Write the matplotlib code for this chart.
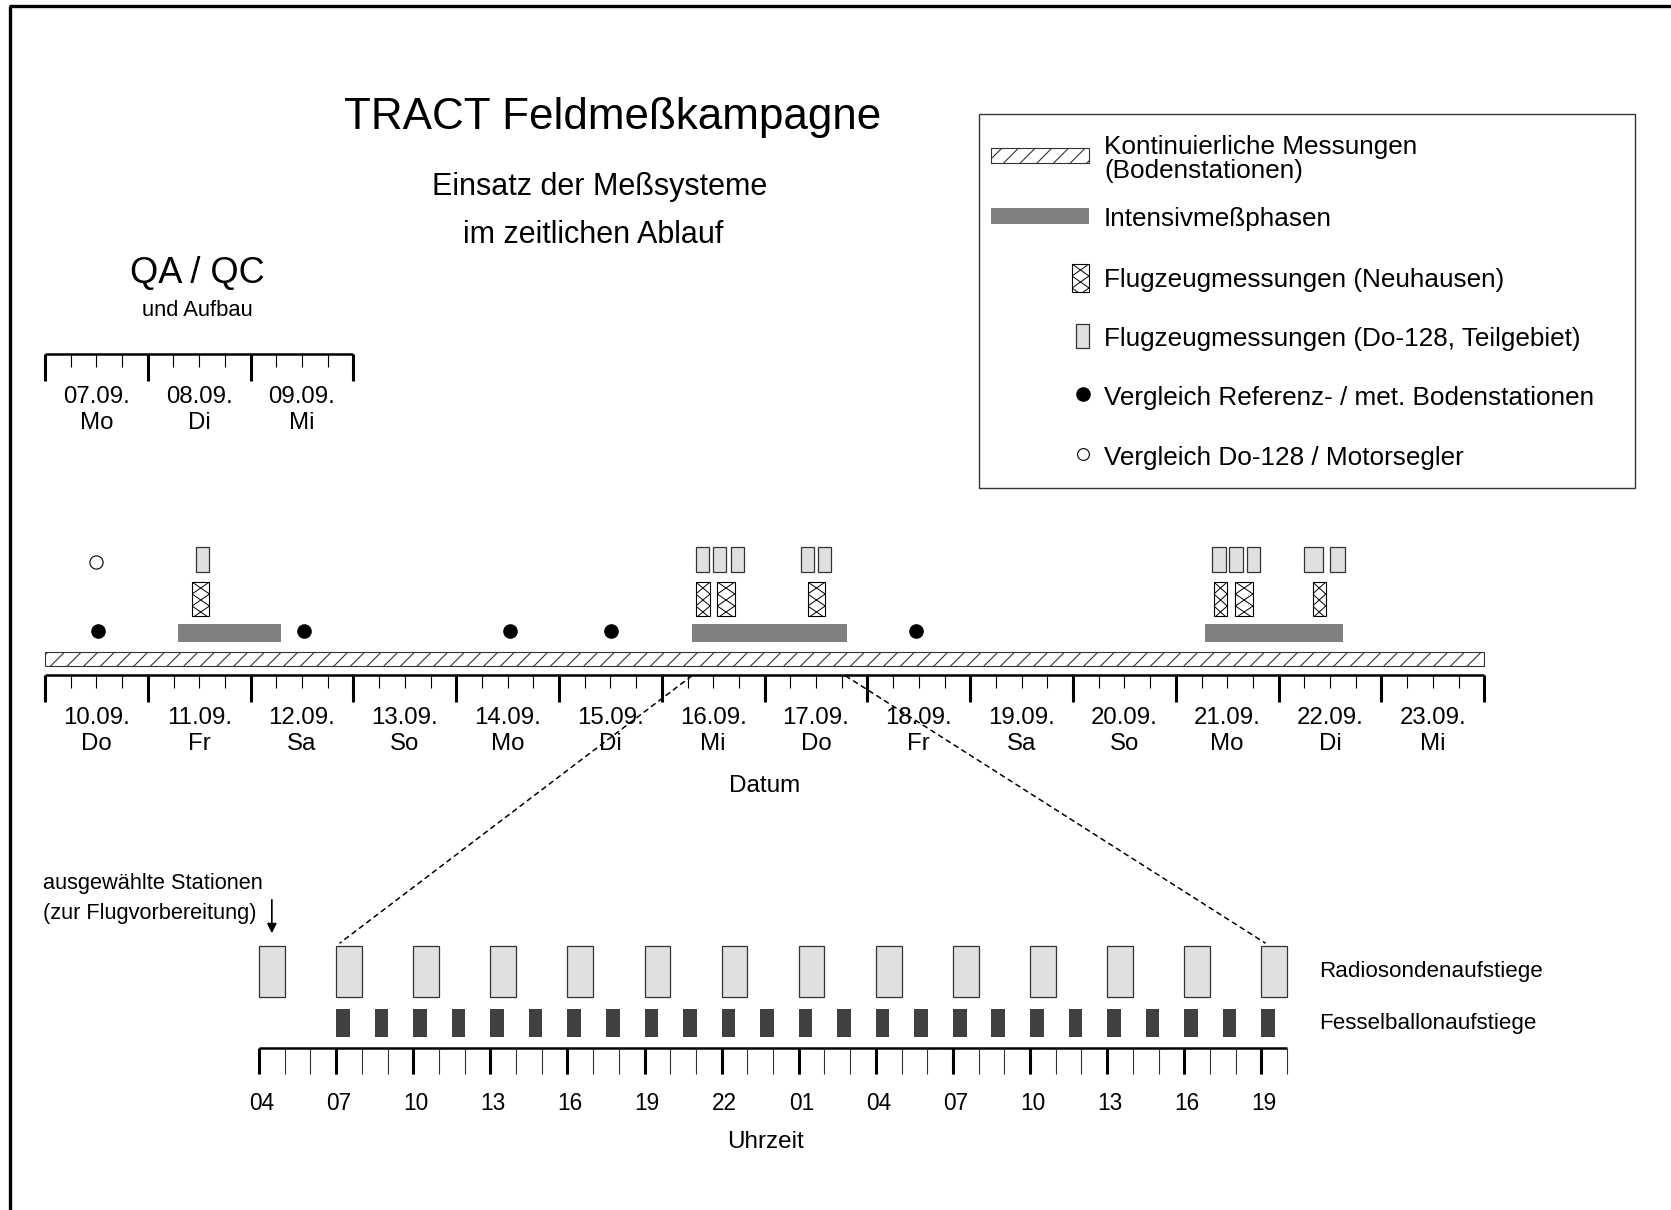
import numpy as np
import matplotlib
matplotlib.use("Agg")
import matplotlib.pyplot as plt
from matplotlib.patches import Rectangle, ConnectionPatch

plt.rcParams['font.family'] = ['Liberation Sans', 'DejaVu Sans']
plt.rcParams['hatch.linewidth'] = 0.8

# ---- data -------------------------------------------------------------
qa_dates = ['07.09.', '08.09.', '09.09.']
qa_weekdays = ['Mo', 'Di', 'Mi']

dates = ['10.09.', '11.09.', '12.09.', '13.09.', '14.09.', '15.09.', '16.09.',
         '17.09.', '18.09.', '19.09.', '20.09.', '21.09.', '22.09.', '23.09.']
weekdays = ['Do', 'Fr', 'Sa', 'So', 'Mo', 'Di', 'Mi',
            'Do', 'Fr', 'Sa', 'So', 'Mo', 'Di', 'Mi']

# days counted from 10.09. 00:00
continuous = [0.0, 14.0]
intensive_start = [1.29, 6.29, 11.28]
intensive_end = [2.30, 7.80, 12.63]
neuhausen_start = [1.43, 6.33, 6.54, 7.42, 11.37, 11.58, 12.33]
neuhausen_end = [1.60, 6.47, 6.71, 7.59, 11.50, 11.75, 12.46]
do128_start = [1.47, 6.33, 6.50, 6.67, 7.35, 7.52, 11.35, 11.52, 11.69, 12.25, 12.50]
do128_end = [1.60, 6.46, 6.62, 6.80, 7.48, 7.65, 11.49, 11.65, 11.82, 12.43, 12.65]
ref_compare = [0.52, 2.52, 4.52, 5.51, 8.47]
do128_compare = [0.50]

# hours counted from 16.09. 04:00
hour_labels = ['04', '07', '10', '13', '16', '19', '22',
               '01', '04', '07', '10', '13', '16', '19']
hours_total = 40
radiosonde = [0, 3, 6, 9, 12, 15, 18, 21, 24, 27, 30, 33, 36, 39]
radiosonde_len = 1.0
ballon = [3, 4.5, 6, 7.5, 9, 10.5, 12, 13.5, 15, 16.5, 18, 19.5, 21, 22.5,
          24, 25.5, 27, 28.5, 30, 31.5, 33, 34.5, 36, 37.5, 39]
ballon_len = 0.53
zoom_days = [6.29, 7.79]
zoom_hours = [3, 39]

legend_labels = ['Kontinuierliche Messungen\n(Bodenstationen)', 'Intensivmeßphasen',
                 'Flugzeugmessungen (Neuhausen)', 'Flugzeugmessungen (Do-128, Teilgebiet)',
                 'Vergleich Referenz- / met. Bodenstationen', 'Vergleich Do-128 / Motorsegler']

# ---- layout -----------------------------------------------------------
W, H = 1671, 1210
DAY_PX = 102.8
HOUR_PX = 25.7
LIGHT = '#e0e0e0'
MID = '#808080'
DARK = '#404040'

fig = plt.figure(figsize=(W / 100, H / 100), dpi=100)
bg = fig.add_axes([0, 0, 1, 1])
bg.set_xlim(0, W)
bg.set_ylim(H, 0)
bg.axis('off')


def strip_axes(x0, width_px, xmax):
    ax = fig.add_axes([x0 / W, 0, width_px / W, 1])
    ax.set_xlim(0, xmax)
    ax.set_ylim(H, 0)
    ax.axis('off')
    return ax


def draw_scale(ax, n, y, major_len, minor_len, step):
    ax.hlines(y, 0, n, color='black', lw=1.8, clip_on=False)
    major = np.arange(0, n + 0.001, 1)
    ax.vlines(major, y, y + major_len, color='black', lw=2.2, clip_on=False)
    minor = [m for m in np.arange(0, n + 0.001, step) if abs(m - round(m)) > 1e-6]
    ax.vlines(minor, y, y + minor_len, color='black', lw=0.8, clip_on=False)


def day_labels(ax, labels, days, y):
    for i, (d, w) in enumerate(zip(labels, days)):
        ax.text(i + 0.5, y, d, ha='center', va='center', fontsize=17.3)
        ax.text(i + 0.5, y + 26, w, ha='center', va='center', fontsize=17.3)


def crosshatch_box(ax, x0, x1, y0, h, period=12):
    # white box with a diamond lattice spanning the box width
    rect = Rectangle((x0, y0), x1 - x0, h, facecolor='white',
                     edgecolor='black', lw=0.8, zorder=3)
    ax.add_patch(rect)
    for k in range(-1, int(h / period) + 2):
        yb = y0 + k * period
        for ya, yb2 in ((yb, yb + period), (yb + period, yb)):
            ln, = ax.plot([x0, x1], [ya, yb2], color='black', lw=0.7, zorder=4)
            ln.set_clip_path(rect)


# frame (top and left only)
bg.plot([9, W], [6, 6], color='black', lw=2.4, solid_capstyle='butt')
bg.plot([9.5, 9.5], [6, H], color='black', lw=2.4, solid_capstyle='butt')

# titles
bg.text(613, 117, 'TRACT Feldmeßkampagne', ha='center', va='center', fontsize=31.7)
bg.text(600, 187, 'Einsatz der Meßsysteme', ha='center', va='center', fontsize=22)
bg.text(593, 235, 'im zeitlichen Ablauf', ha='center', va='center', fontsize=22)
bg.text(197, 273, 'QA / QC', ha='center', va='center', fontsize=26)
bg.text(197, 310, 'und Aufbau', ha='center', va='center', fontsize=15.8)

# QA / QC scale
ax_qa = strip_axes(45, 3 * DAY_PX, 3)
draw_scale(ax_qa, 3, 354, 27, 13, 0.25)
day_labels(ax_qa, qa_dates, qa_weekdays, 397)

# main campaign scale
ax = strip_axes(45, 14 * DAY_PX, 14)
draw_scale(ax, 14, 675, 27, 13, 0.25)
day_labels(ax, dates, weekdays, 718)
ax.text(7.0, 786, 'Datum', ha='center', va='center', fontsize=17.5)

ax.add_patch(Rectangle((continuous[0], 652), continuous[1] - continuous[0], 14,
                       facecolor='white', edgecolor='#333333', lw=0.8,
                       hatch='//', clip_on=False))
for s, e in zip(intensive_start, intensive_end):
    ax.add_patch(Rectangle((s, 624), e - s, 18, facecolor=MID, edgecolor='none'))
for s, e in zip(neuhausen_start, neuhausen_end):
    crosshatch_box(ax, s, e, 582, 34)
for s, e in zip(do128_start, do128_end):
    ax.add_patch(Rectangle((s, 547), e - s, 25, facecolor=LIGHT,
                           edgecolor='#333333', lw=0.9))
ax.plot(ref_compare, [631] * len(ref_compare), 'o', color='black', ms=9.5)
ax.plot(do128_compare, [562] * len(do128_compare), 'o', mfc='white',
        mec='black', mew=0.8, ms=9.5)

# hour scale
ax_h = strip_axes(259, hours_total * HOUR_PX, hours_total)
ax_h.hlines(1048, 0, hours_total, color='black', lw=1.8, clip_on=False)
ax_h.vlines(np.arange(0, hours_total + 1, 1), 1048, 1074, color='#333333',
            lw=0.8, clip_on=False)
major_h = np.arange(0, hours_total, 3)
ax_h.vlines(major_h, 1048, 1074, color='black', lw=2.2, clip_on=False)
for hpos, lab in zip(major_h, hour_labels):
    ax_h.text(hpos + 0.1, 1104, lab, ha='center', va='center', fontsize=16.3)
ax_h.text(19.7, 1142, 'Uhrzeit', ha='center', va='center', fontsize=17.5)

for hpos in radiosonde:
    ax_h.add_patch(Rectangle((hpos, 946), radiosonde_len, 51, facecolor=LIGHT,
                             edgecolor='#333333', lw=0.9, clip_on=False))
for hpos in ballon:
    ax_h.add_patch(Rectangle((hpos, 1009), ballon_len, 28, facecolor=DARK,
                             edgecolor='none', clip_on=False))

bg.text(1319, 972, 'Radiosondenaufstiege', ha='left', va='center', fontsize=16.1)
bg.text(1319, 1024, 'Fesselballonaufstiege', ha='left', va='center', fontsize=16.1)

bg.text(43, 884, 'ausgewählte Stationen', ha='left', va='center', fontsize=15.7)
bg.text(43, 913, '(zur Flugvorbereitung)', ha='left', va='center', fontsize=15.7)
ax_h.annotate('', xy=(radiosonde[0] + radiosonde_len / 2, 936),
              xytext=(radiosonde[0] + radiosonde_len / 2, 897),
              arrowprops=dict(arrowstyle='-|>', color='black', lw=1.2,
                              mutation_scale=14), annotation_clip=False)

# dashed zoom lines
for d, hpos in zip(zoom_days, zoom_hours):
    con = ConnectionPatch(xyA=(d, 676), coordsA=ax.transData,
                          xyB=(hpos + 0.15, 943), coordsB=ax_h.transData,
                          color='black', lw=1.1, linestyle=(0, (3, 3)))
    fig.add_artist(con)

# legend
bg.add_patch(Rectangle((979, 114), 656, 374, facecolor='white',
                       edgecolor='#333333', lw=1.0))
bg.add_patch(Rectangle((991, 148), 98, 15, facecolor='white', edgecolor='#333333',
                       lw=0.8, hatch='//'))
bg.add_patch(Rectangle((991, 208), 98, 16, facecolor=MID, edgecolor='none'))
crosshatch_box(bg, 1072, 1089, 264, 28)
bg.add_patch(Rectangle((1076, 324), 13, 24, facecolor=LIGHT, edgecolor='#333333',
                       lw=0.9))
bg.plot([1083], [394], 'o', color='black', ms=9.5)
bg.plot([1083], [454], 'o', mfc='white', mec='black', mew=0.8, ms=8.5)

leg_y = [159, 219, 280, 339, 398, 458]
for yy, lab in zip(leg_y, legend_labels):
    bg.text(1104, yy, lab, ha='left', va='center', fontsize=18.8,
            linespacing=0.95)

fig.savefig('out.png', dpi=100)
